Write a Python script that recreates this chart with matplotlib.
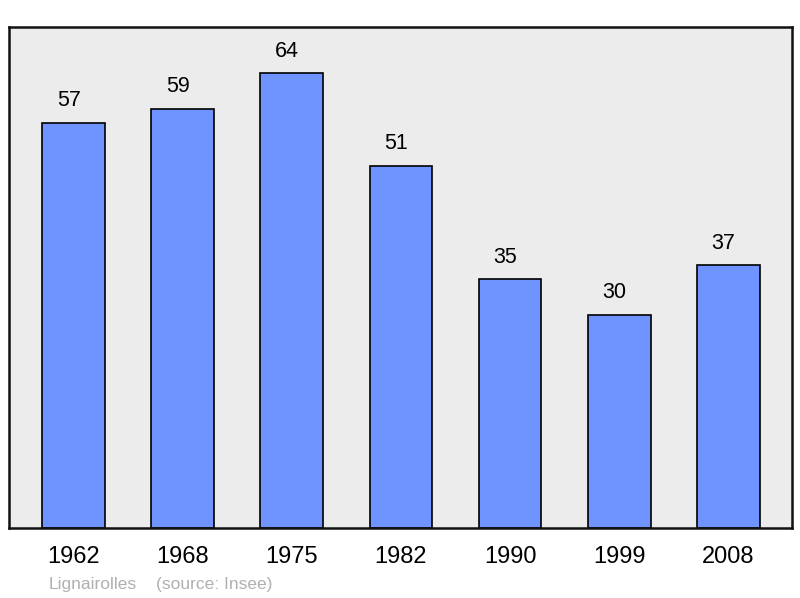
import matplotlib.pyplot as plt

plt.rcParams['font.family'] = ['Liberation Sans', 'DejaVu Sans']

# Population data
years = ['1962', '1968', '1975', '1982', '1990', '1999', '2008']
population = [57, 59, 64, 51, 35, 30, 37]

fig = plt.figure(figsize=(8, 5.98), dpi=100)
ax = fig.add_axes([0.0115, 0.117, 0.978, 0.838])
ax.set_facecolor('#ececec')

x = range(len(years))
ax.bar(x, population, width=0.576, color='#7094ff', edgecolor='black', linewidth=1.2, zorder=2)

for i, v in zip(x, population):
    ax.text(i - 0.045, v + 1.6, str(v), ha='center', va='bottom', fontsize=15.5)

ax.set_xlim(-0.59, 6.58)
ax.set_ylim(0, 70.5)
ax.set_yticks([])
ax.set_xticks(list(x))
ax.set_xticklabels(years, fontsize=17)
ax.tick_params(axis='x', length=0, pad=13)
for s in ax.spines.values():
    s.set_linewidth(1.8)
    s.set_color('#111111')

fig.text(49 / 800, 1 - 584 / 598, 'Lignairolles', color='#b0b0b0', fontsize=12.5, va='center')
fig.text(156 / 800, 1 - 584 / 598, '(source: Insee)', color='#b0b0b0', fontsize=12.5, va='center')

fig.savefig('out.png', dpi=100)
